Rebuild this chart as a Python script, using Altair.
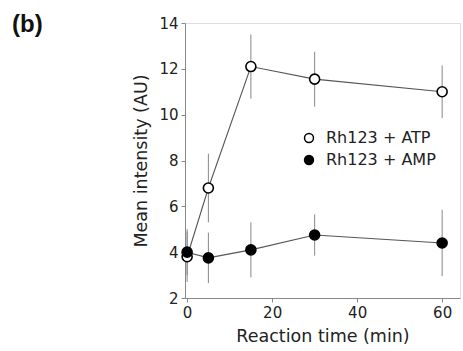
import altair as alt
import pandas as pd

time = [0, 5, 15, 30, 60]
atp = [3.8, 6.8, 12.1, 11.55, 11.0]
atp_err = [1.1, 1.5, 1.4, 1.2, 1.15]
amp = [4.0, 3.75, 4.1, 4.75, 4.4]
amp_err = [1.0, 1.1, 1.2, 0.9, 1.45]
series = ["Rh123 + ATP", "Rh123 + AMP"]

rows = []
for t, v, e in zip(time, atp, atp_err):
    rows.append({"t": t, "v": v, "e": e, "s": series[0]})
for t, v, e in zip(time, amp, amp_err):
    rows.append({"t": t, "v": v, "e": e, "s": series[1]})
df = pd.DataFrame(rows)

FONT = "DejaVu Sans"
xs = alt.Scale(domain=[-0.5, 64.2], nice=False, zero=False)
ys = alt.Scale(domain=[2, 14], nice=False, zero=False)

base = alt.Chart(df)

x_enc = alt.X("t:Q", scale=xs, title="Reaction time (min)",
              axis=alt.Axis(values=[0, 20, 40, 60], grid=False, tickSize=4,
                            labelFontSize=15, titleFontSize=17.5, labelPadding=3,
                            titlePadding=7, titleFontWeight="normal",
                            domainColor="#888", tickColor="#888",
                            labelColor="#222", titleColor="#222", labelFont=FONT, titleFont=FONT))
y_enc = alt.Y("v:Q", scale=ys, title="Mean intensity (AU)",
              axis=alt.Axis(values=[2, 4, 6, 8, 10, 12, 14], grid=False, tickSize=4,
                            labelFontSize=15, titleFontSize=17.5, labelPadding=3,
                            titlePadding=8, titleFontWeight="normal",
                            domainColor="#888", tickColor="#888",
                            labelColor="#222", titleColor="#222", labelFont=FONT, titleFont=FONT))

err = base.transform_calculate(lo="datum.v - datum.e", hi="datum.v + datum.e").mark_rule(
    color="#888", strokeWidth=1
).encode(x=alt.X("t:Q", scale=xs), y=alt.Y("lo:Q", scale=ys), y2="hi:Q")

lines = base.mark_line(color="#555", strokeWidth=1.1).encode(
    x=x_enc, y=y_enc, detail="s:N")

pts = base.mark_point(filled=False, size=100, strokeWidth=1.6, stroke="black", opacity=1).encode(
    x=alt.X("t:Q", scale=xs), y=alt.Y("v:Q", scale=ys),
    fill=alt.Fill("s:N", scale=alt.Scale(domain=series, range=["white", "black"]),
                  legend=alt.Legend(title=None, orient="none", legendX=116, legendY=107,
                                    labelFontSize=16, labelFont=FONT, labelColor="#222",
                                    symbolSize=80, symbolStrokeColor="black",
                                    symbolStrokeWidth=1.5, rowPadding=6, labelOffset=9)),
)

chart = alt.layer(err, lines, pts).properties(
    width=275, height=275,
    autosize=alt.AutoSizeParams(type="none"),
    padding={"left": 185, "top": 23, "right": 3, "bottom": 53},
    title=alt.TitleParams("(b)", anchor="start", frame="group", dx=-173, dy=25,
                          fontSize=24, font="Liberation Sans", fontWeight="bold", color="#111"),
).configure_view(stroke="#888", strokeWidth=1).configure(background="white")

chart.save("out.html", embed_options={"renderer": "svg", "actions": False})
